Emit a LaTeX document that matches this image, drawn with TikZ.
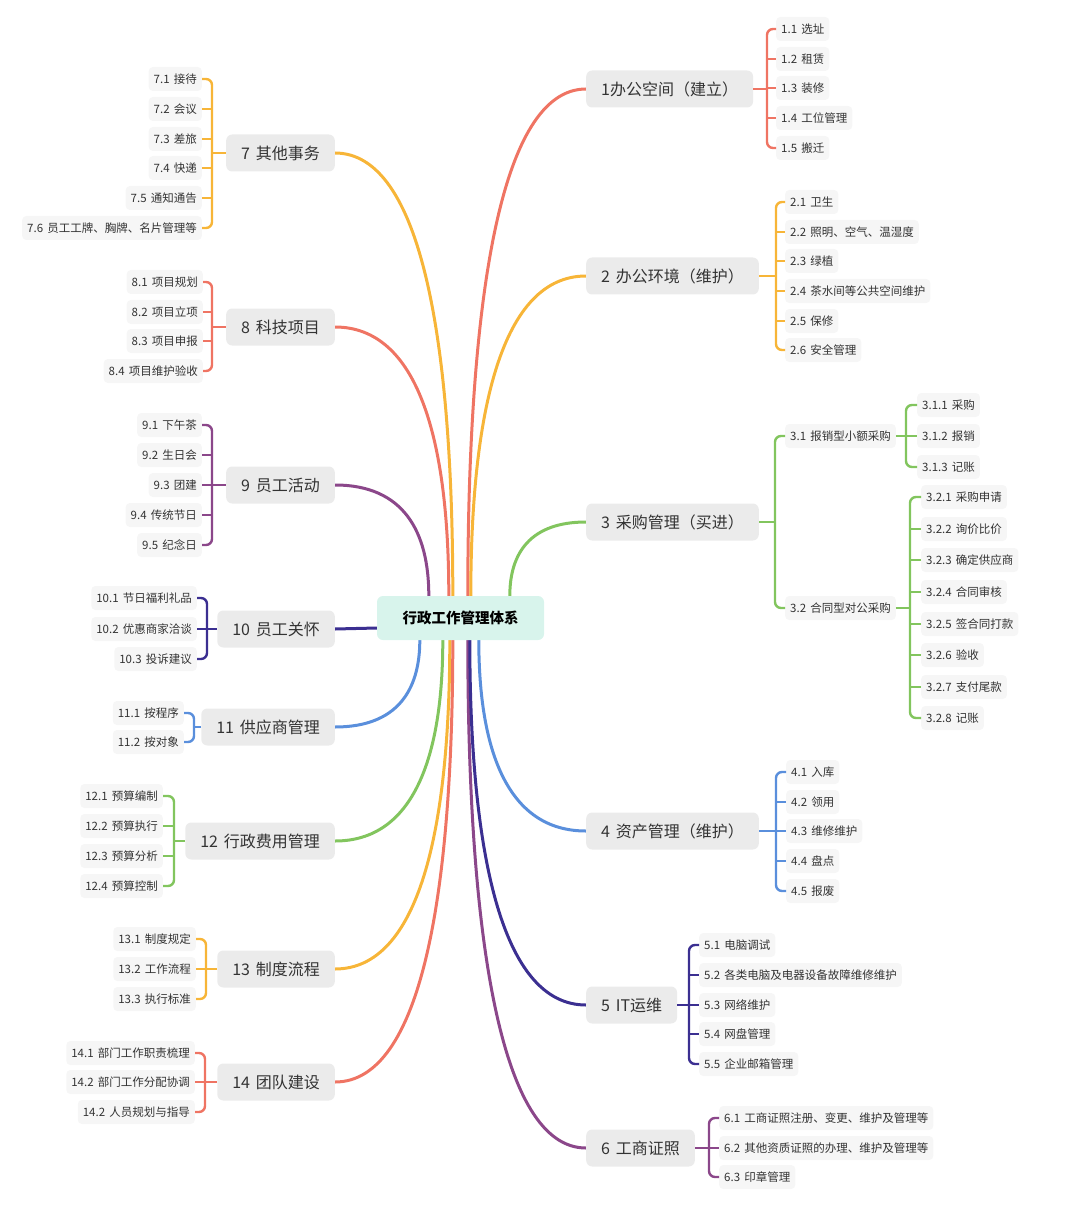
\documentclass[tikz,border=0pt]{standalone}
\usepackage{fontspec}
\setmainfont[WordSpace=1.6]{Noto Sans CJK SC}
\usetikzlibrary{calc,backgrounds}
\definecolor{cR}{HTML}{EF7463}
\definecolor{cO}{HTML}{F7B538}
\definecolor{cG}{HTML}{82C55E}
\definecolor{cB}{HTML}{5A8FDC}
\definecolor{cN}{HTML}{3B2F91}
\definecolor{cP}{HTML}{8B478A}
\definecolor{mainfill}{HTML}{EBEBEB}
\definecolor{leaffill}{HTML}{F6F6F6}
\definecolor{centerfill}{HTML}{D8F4EC}
\definecolor{txt}{HTML}{333333}
\newcommand\mconn[3]{\draw[mline,#1] (#2) .. controls ($(#2)!0.58!(#2|-#3)$) and ($(#3)!0.73!(#2|-#3)$) .. (#3);}
\newcommand\brk[5]{\draw[bl,#1] (#2) -- (#3|-#2); \draw[bl,#1] (#4) -| (#3|-#2) |- (#5);}
\newcommand\tee[3]{\draw[bl,#1] (#2|-#3) -- (#3);}
\begin{document}
\begin{tikzpicture}[x=1pt,y=1pt,
  main/.style={fill=mainfill, rounded corners=6pt, minimum height=37pt, inner xsep=15pt, inner ysep=0pt, font=\fontsize{16}{19}\selectfont, text=txt},
  mainR/.style={main, anchor=west}, mainL/.style={main, anchor=east},
  leaf/.style={fill=leaffill, rounded corners=4pt, minimum height=24pt, inner xsep=5pt, inner ysep=0pt, font=\fontsize{11.5}{13}\selectfont, text=txt},
  leafR/.style={leaf, anchor=west}, leafL/.style={leaf, anchor=east},
  centre/.style={fill=centerfill, rounded corners=6pt, minimum width=167pt, minimum height=44pt, inner sep=0pt, font=\fontsize{14.5}{17}\selectfont\bfseries, text=black},
  mline/.style={line width=3pt},
  bl/.style={line width=2.4pt, rounded corners=6pt}]
\useasboundingbox (0,0) rectangle (1080,-1222);

% centre
\node[centre] (c) at (460.5,-618) {行政工作管理体系};

% main nodes right
\node[mainR] (p1) at (586,-89) {1办公空间（建立）};
\node[mainR] (p2) at (586,-276) {2 办公环境（维护）};
\node[mainR] (p3) at (586,-522) {3 采购管理（买进）};
\node[mainR] (p4) at (586,-831) {4 资产管理（维护）};
\node[mainR] (p5) at (586,-1005) {5 IT运维};
\node[mainR] (p6) at (586,-1148) {6 工商证照};
% main nodes left
\node[mainL] (p7) at (335,-153) {7 其他事务};
\node[mainL] (p8) at (335,-327) {8 科技项目};
\node[mainL] (p9) at (335,-485) {9 员工活动};
\node[mainL] (p10) at (335,-629) {10 员工关怀};
\node[mainL] (p11) at (335,-727) {11 供应商管理};
\node[mainL] (p12) at (335,-841) {12 行政费用管理};
\node[mainL] (p13) at (335,-969) {13 制度流程};
\node[mainL] (p14) at (335,-1082) {14 团队建设};

% origins on the centre node
\coordinate (o9) at ([xshift=52pt]c.north west);
\coordinate (o8) at ([xshift=72pt]c.north west);
\coordinate (o7) at ([xshift=76pt]c.north west);
\coordinate (o1) at ([xshift=91pt]c.north west);
\coordinate (o2) at ([xshift=94pt]c.north west);
\coordinate (o3) at ([xshift=133pt]c.north west);
\coordinate (o11) at ([xshift=43pt]c.south west);
\coordinate (o12) at ([xshift=66pt]c.south west);
\coordinate (o13) at ([xshift=73pt]c.south west);
\coordinate (o14) at ([xshift=76pt]c.south west);
\coordinate (o6) at ([xshift=91pt]c.south west);
\coordinate (o5) at ([xshift=93pt]c.south west);
\coordinate (o4) at ([xshift=102pt]c.south west);
\coordinate (o10) at ([yshift=-10pt]c.west);

\begin{scope}[on background layer]
\mconn{cP}{o9}{p9.east}
\mconn{cR}{o8}{p8.east}
\mconn{cO}{o7}{p7.east}
\mconn{cR}{o1}{p1.west}
\mconn{cO}{o2}{p2.west}
\mconn{cG}{o3}{p3.west}
\mconn{cB}{o11}{p11.east}
\mconn{cG}{o12}{p12.east}
\mconn{cO}{o13}{p13.east}
\mconn{cR}{o14}{p14.east}
\mconn{cP}{o6}{p6.west}
\mconn{cN}{o5}{p5.west}
\mconn{cB}{o4}{p4.west}
\draw[mline,cN] (o10) -- (p10.east);
\end{scope}

% ---- 1
\node[leafR] (a1a) at (776,-29) {1.1 选址};
\node[leafR] (a1b) at (776,-59) {1.2 租赁};
\node[leafR] (a1c) at (776,-88) {1.3 装修};
\node[leafR] (a1d) at (776,-118) {1.4 工位管理};
\node[leafR] (a1e) at (776,-148) {1.5 搬迁};
\coordinate (s1) at (767,0);
\brk{cR}{p1.east}{s1}{a1a.west}{a1e.west}
\foreach \n in {b,c,d} {\tee{cR}{s1}{a1\n.west}}

% ---- 2
\node[leafR] (a2a) at (785,-202) {2.1 卫生};
\node[leafR] (a2b) at (785,-232) {2.2 照明、空气、温湿度};
\node[leafR] (a2c) at (785,-261) {2.3 绿植};
\node[leafR] (a2d) at (785,-291) {2.4 茶水间等公共空间维护};
\node[leafR] (a2e) at (785,-321) {2.5 保修};
\node[leafR] (a2f) at (785,-350) {2.6 安全管理};
\coordinate (s2) at (776,0);
\brk{cO}{p2.east}{s2}{a2a.west}{a2f.west}
\foreach \n in {b,c,d,e} {\tee{cO}{s2}{a2\n.west}}

% ---- 3
\node[leafR] (q31) at (785,-436) {3.1 报销型小额采购};
\node[leafR] (q32) at (785,-608) {3.2 合同型对公采购};
\coordinate (s3) at (775,0);
\brk{cG}{p3.east}{s3}{q31.west}{q32.west}
\node[leafR] (r31a) at (917,-405) {3.1.1 采购};
\node[leafR] (r31b) at (917,-436) {3.1.2 报销};
\node[leafR] (r31c) at (917,-467) {3.1.3 记账};
\coordinate (s31) at (906,0);
\brk{cG}{q31.east}{s31}{r31a.west}{r31c.west}
\tee{cG}{s31}{r31b.west}
\node[leafR] (r32a) at (921,-497) {3.2.1 采购申请};
\node[leafR] (r32b) at (921,-529) {3.2.2 询价比价};
\node[leafR] (r32c) at (921,-560) {3.2.3 确定供应商};
\node[leafR] (r32d) at (921,-592) {3.2.4 合同审核};
\node[leafR] (r32e) at (921,-624) {3.2.5 签合同打款};
\node[leafR] (r32f) at (921,-655) {3.2.6 验收};
\node[leafR] (r32g) at (921,-687) {3.2.7 支付尾款};
\node[leafR] (r32h) at (921,-718) {3.2.8 记账};
\coordinate (s32) at (910,0);
\brk{cG}{q32.east}{s32}{r32a.west}{r32h.west}
\foreach \n in {b,c,d,e,f,g} {\tee{cG}{s32}{r32\n.west}}

% ---- 4
\node[leafR] (a4a) at (786,-772) {4.1 入库};
\node[leafR] (a4b) at (786,-802) {4.2 领用};
\node[leafR] (a4c) at (786,-831) {4.3 维修维护};
\node[leafR] (a4d) at (786,-861) {4.4 盘点};
\node[leafR] (a4e) at (786,-891) {4.5 报废};
\coordinate (s4) at (776,0);
\brk{cB}{p4.east}{s4}{a4a.west}{a4e.west}
\foreach \n in {b,c,d} {\tee{cB}{s4}{a4\n.west}}

% ---- 5
\node[leafR] (a5a) at (699,-945) {5.1 电脑调试};
\node[leafR] (a5b) at (699,-975) {5.2 各类电脑及电器设备故障维修维护};
\node[leafR] (a5c) at (699,-1005) {5.3 网络维护};
\node[leafR] (a5d) at (699,-1034) {5.4 网盘管理};
\node[leafR] (a5e) at (699,-1064) {5.5 企业邮箱管理};
\coordinate (s5) at (689,0);
\brk{cN}{p5.east}{s5}{a5a.west}{a5e.west}
\foreach \n in {b,c,d} {\tee{cN}{s5}{a5\n.west}}

% ---- 6
\node[leafR] (a6a) at (719,-1118) {6.1 工商证照注册、变更、维护及管理等};
\node[leafR] (a6b) at (719,-1148) {6.2 其他资质证照的办理、维护及管理等};
\node[leafR] (a6c) at (719,-1177) {6.3 印章管理};
\coordinate (s6) at (709,0);
\brk{cP}{p6.east}{s6}{a6a.west}{a6c.west}
\tee{cP}{s6}{a6b.west}

% ---- 7
\node[leafL] (a7a) at (202,-79) {7.1 接待};
\node[leafL] (a7b) at (202,-109) {7.2 会议};
\node[leafL] (a7c) at (202,-139) {7.3 差旅};
\node[leafL] (a7d) at (202,-168) {7.4 快递};
\node[leafL] (a7e) at (202,-198) {7.5 通知通告};
\node[leafL] (a7f) at (202,-228) {7.6 员工工牌、胸牌、名片管理等};
\coordinate (s7) at (212,0);
\brk{cO}{p7.west}{s7}{a7a.east}{a7f.east}
\foreach \n in {b,c,d,e} {\tee{cO}{s7}{a7\n.east}}

% ---- 8
\node[leafL] (a8a) at (203,-282) {8.1 项目规划};
\node[leafL] (a8b) at (203,-312) {8.2 项目立项};
\node[leafL] (a8c) at (203,-341) {8.3 项目申报};
\node[leafL] (a8d) at (203,-371) {8.4 项目维护验收};
\coordinate (s8) at (212,0);
\brk{cR}{p8.west}{s8}{a8a.east}{a8d.east}
\foreach \n in {b,c} {\tee{cR}{s8}{a8\n.east}}

% ---- 9
\node[leafL] (a9a) at (202,-425) {9.1 下午茶};
\node[leafL] (a9b) at (202,-455) {9.2 生日会};
\node[leafL] (a9c) at (202,-485) {9.3 团建};
\node[leafL] (a9d) at (202,-515) {9.4 传统节日};
\node[leafL] (a9e) at (202,-545) {9.5 纪念日};
\coordinate (s9) at (212,0);
\brk{cP}{p9.west}{s9}{a9a.east}{a9e.east}
\foreach \n in {b,c,d} {\tee{cP}{s9}{a9\n.east}}

% ---- 10
\node[leafL] (a10a) at (197,-598) {10.1 节日福利礼品};
\node[leafL] (a10b) at (197,-629) {10.2 优惠商家洽谈};
\node[leafL] (a10c) at (197,-659) {10.3 投诉建议};
\coordinate (s10) at (207,0);
\brk{cN}{p10.west}{s10}{a10a.east}{a10c.east}
\tee{cN}{s10}{a10b.east}

% ---- 11
\node[leafL] (a11a) at (184,-713) {11.1 按程序};
\node[leafL] (a11b) at (184,-742) {11.2 按对象};
\coordinate (s11) at (194,0);
\brk{cB}{p11.west}{s11}{a11a.east}{a11b.east}

% ---- 12
\node[leafL] (a12a) at (163,-796) {12.1 预算编制};
\node[leafL] (a12b) at (163,-826) {12.2 预算执行};
\node[leafL] (a12c) at (163,-856) {12.3 预算分析};
\node[leafL] (a12d) at (163,-886) {12.4 预算控制};
\coordinate (s12) at (174,0);
\brk{cG}{p12.west}{s12}{a12a.east}{a12d.east}
\foreach \n in {b,c} {\tee{cG}{s12}{a12\n.east}}

% ---- 13
\node[leafL] (a13a) at (196,-939) {13.1 制度规定};
\node[leafL] (a13b) at (196,-969) {13.2 工作流程};
\node[leafL] (a13c) at (196,-999) {13.3 执行标准};
\coordinate (s13) at (206,0);
\brk{cO}{p13.west}{s13}{a13a.east}{a13c.east}
\tee{cO}{s13}{a13b.east}

% ---- 14
\node[leafL] (a14a) at (195,-1053) {14.1 部门工作职责梳理};
\node[leafL] (a14b) at (195,-1082) {14.2 部门工作分配协调};
\node[leafL] (a14c) at (195,-1112) {14.2 人员规划与指导};
\coordinate (s14) at (205,0);
\brk{cR}{p14.west}{s14}{a14a.east}{a14c.east}
\tee{cR}{s14}{a14b.east}
\end{tikzpicture}
\end{document}
